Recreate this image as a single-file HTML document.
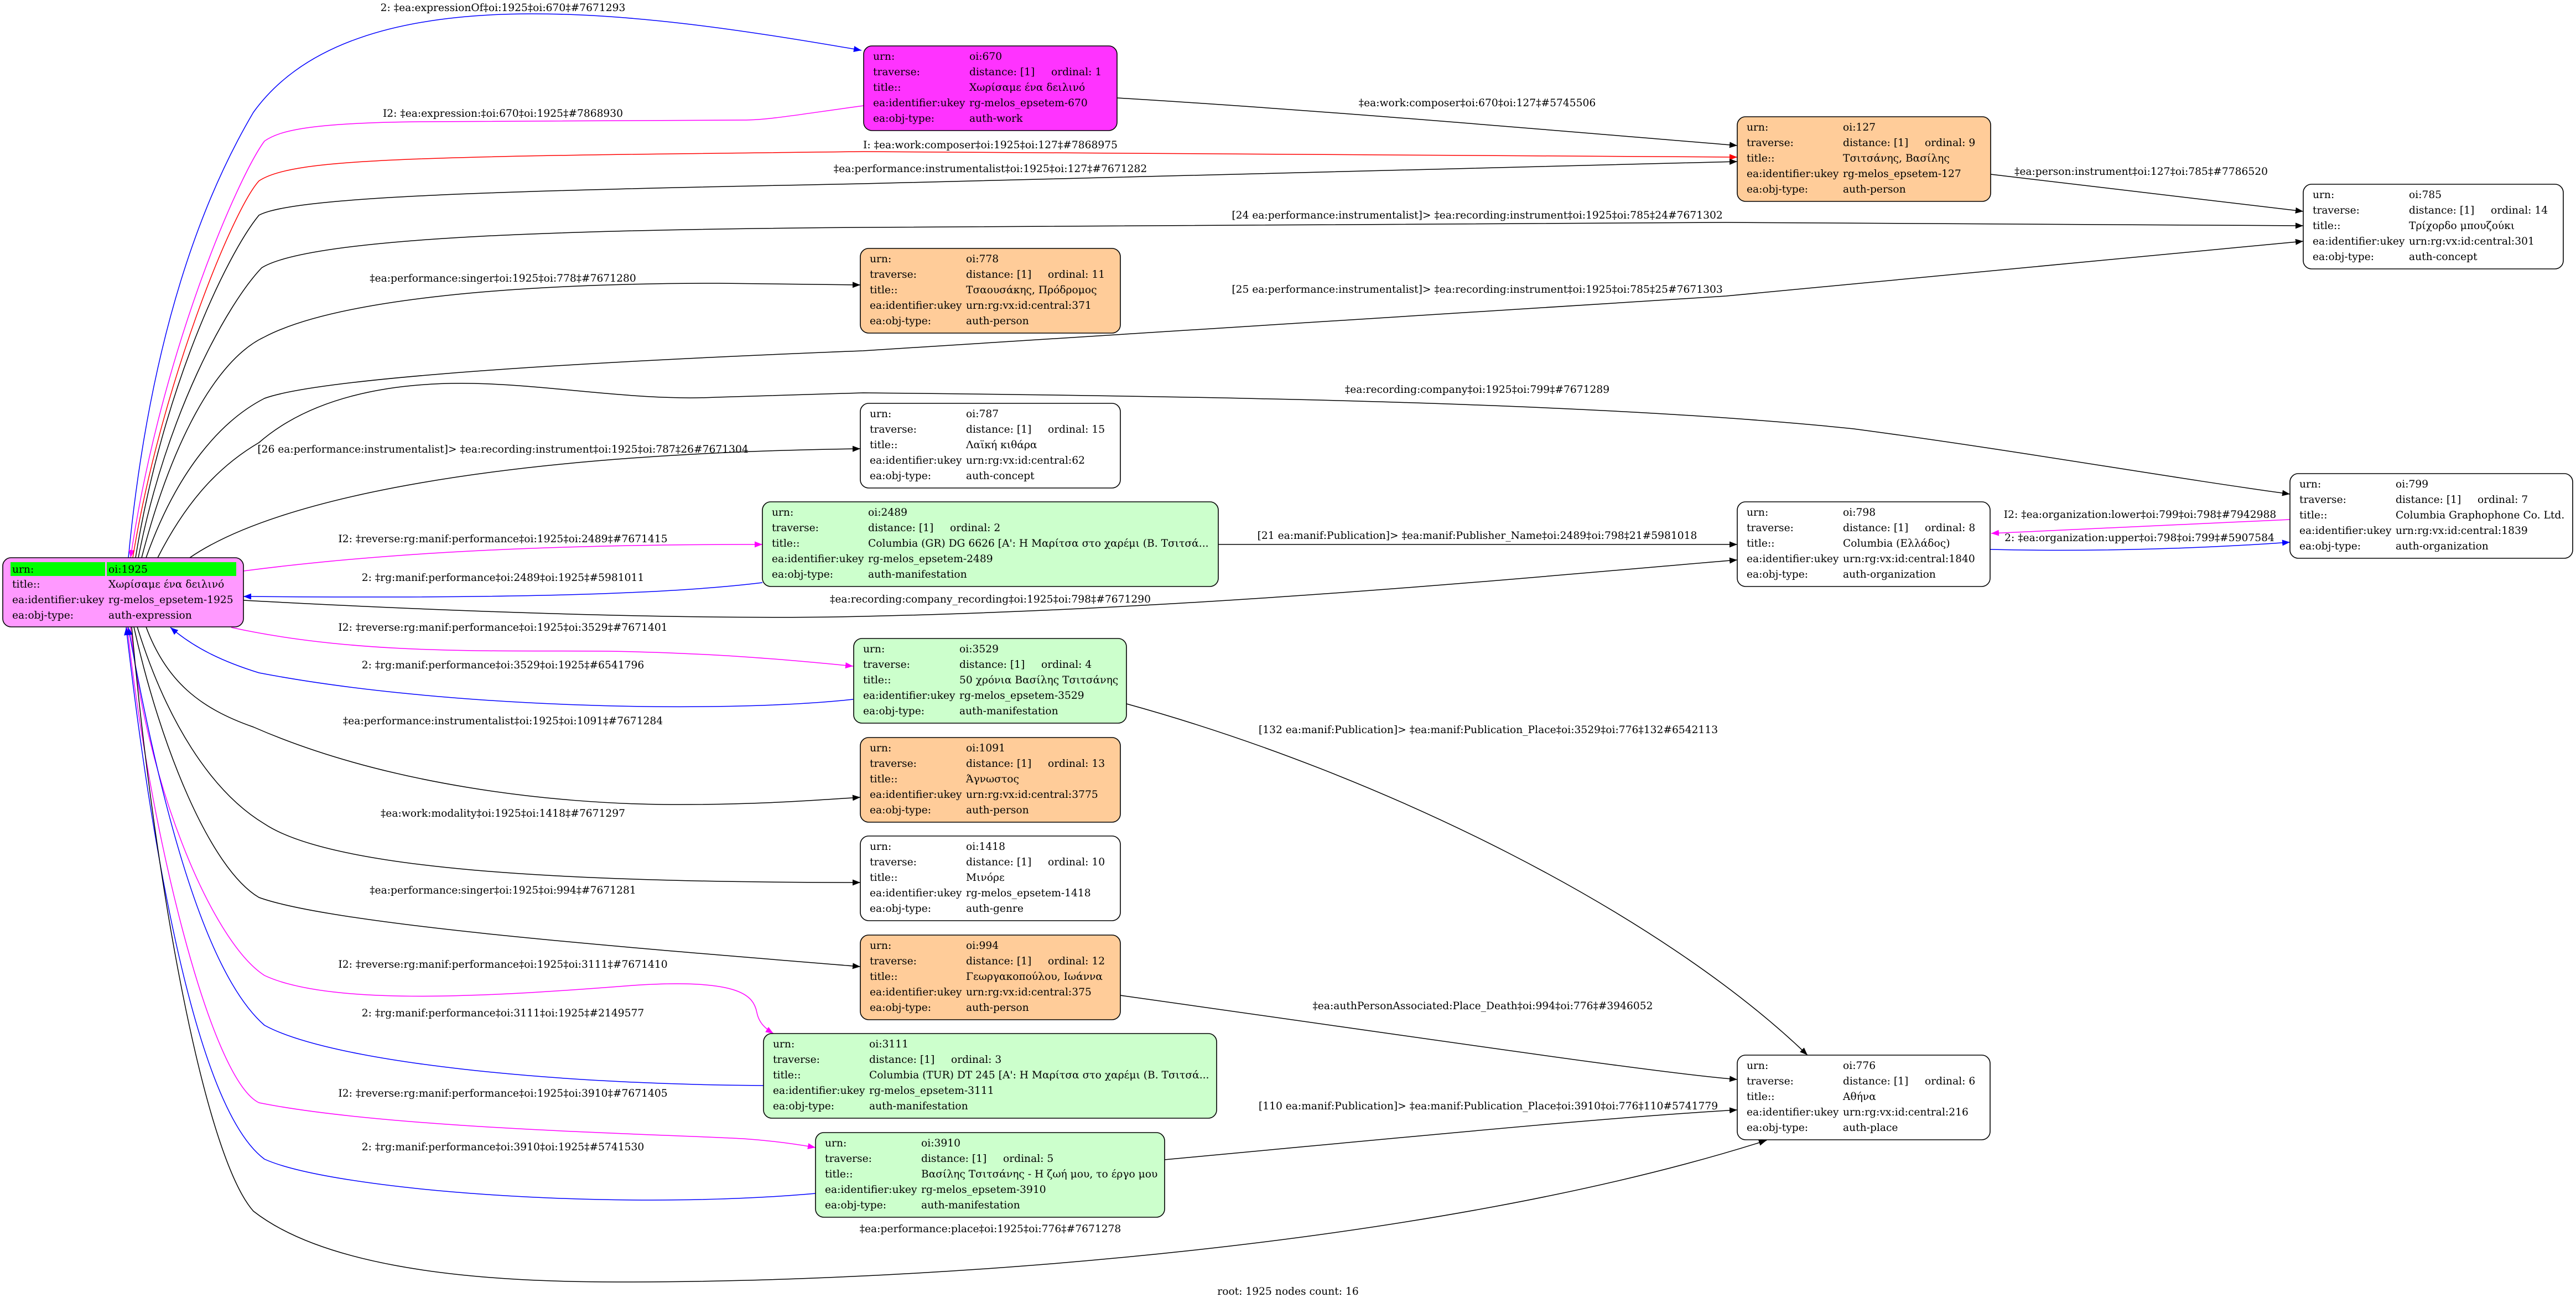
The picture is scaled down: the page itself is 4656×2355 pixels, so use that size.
<!DOCTYPE html>
<html>
<head>
<meta charset="utf-8">
<style>
html,body{margin:0;padding:0;background:#fff;}
svg{display:block;}
text{font-family:"DejaVu Serif","Liberation Serif",serif;font-size:18.67px;fill:#000;}
.e{fill:none;stroke-width:1.5;}
.k{stroke:#000;}
.b{stroke:#0000ff;}
.m{stroke:#ff00ff;}
.r{stroke:#ff0000;}
.n{stroke:#000;stroke-width:1.6;}
</style>
</head>
<body>
<svg width="4656" height="2355" viewBox="0 0 4656 2355" xmlns="http://www.w3.org/2000/svg">
<defs>
<marker id="ak" markerUnits="userSpaceOnUse" markerWidth="16" markerHeight="13" refX="14" refY="5.5" orient="auto"><path d="M0,0 L14,5.5 L0,11 z" fill="#000"/></marker>
<marker id="ab" markerUnits="userSpaceOnUse" markerWidth="16" markerHeight="13" refX="14" refY="5.5" orient="auto"><path d="M0,0 L14,5.5 L0,11 z" fill="#0000ff"/></marker>
<marker id="am" markerUnits="userSpaceOnUse" markerWidth="16" markerHeight="13" refX="14" refY="5.5" orient="auto"><path d="M0,0 L14,5.5 L0,11 z" fill="#ff00ff"/></marker>
<marker id="ar" markerUnits="userSpaceOnUse" markerWidth="16" markerHeight="13" refX="14" refY="5.5" orient="auto"><path d="M0,0 L14,5.5 L0,11 z" fill="#ff0000"/></marker>
</defs>
<rect x="0" y="0" width="4656" height="2355" fill="#fff"/>

<!-- EDGES -->
<path class="e b" marker-end="url(#ab)" d="M232,1008 C262,700 330,420 458,203 C640,-50 1150,20 1557,91"/>
<path class="e m" marker-end="url(#am)" d="M1561,191 C1450,206 1390,217 1343,217 L760,220 C560,222 505,236 478,255 C430,320 290,640 236,1008"/>
<path class="e r" marker-end="url(#ar)" d="M240,1008 C290,700 420,380 468,327 C530,285 750,283 1560,274 L3140,284"/>
<path class="e k" marker-end="url(#ak)" d="M245,1008 C295,700 410,460 468,389 C530,355 900,345 1560,332 L3140,292"/>
<path class="e k" marker-end="url(#ak)" d="M250,1008 C300,750 410,550 473,484 C560,430 1000,415 1560,411 L3120,402 L4163,408"/>
<path class="e k" marker-end="url(#ak)" d="M256,1008 C310,800 390,650 478,609 C600,545 900,512 1300,512 L1555,515"/>
<path class="e k" marker-end="url(#ak)" d="M264,1008 C320,850 400,760 478,720 C560,690 900,660 1560,634 C2200,590 2700,560 3120,535 L4163,436"/>
<path class="e k" marker-end="url(#ak)" d="M285,1008 C340,900 400,840 468,800 C560,720 700,690 856,693 C1000,696 1150,725 1294,718 C1400,714 1480,712 1560,710 C2200,716 2900,728 3350,775 C3650,815 3900,860 4139,893"/>
<path class="e k" marker-end="url(#ak)" d="M343,1008 C500,900 900,820 1555,811"/>
<path class="e m" marker-end="url(#am)" d="M440,1032 C700,998 1000,984 1378,984"/>
<path class="e b" marker-end="url(#ab)" d="M1378,1053 C1200,1075 900,1082 440,1078"/>
<path class="e k" marker-end="url(#ak)" d="M440,1085 C900,1110 1300,1120 1560,1114 C2200,1100 2800,1040 3140,1012"/>
<path class="e k" marker-end="url(#ak)" d="M2202,984 L3140,984"/>
<path class="e m" marker-end="url(#am)" d="M4139,939 C3900,950 3700,958 3599,964"/>
<path class="e b" marker-end="url(#ab)" d="M3597,993 C3800,998 4000,990 4139,980"/>
<path class="e k" marker-end="url(#ak)" d="M2019,177 C2400,200 2800,235 3140,263"/>
<path class="e k" marker-end="url(#ak)" d="M3598,315 L4163,382"/>
<path class="e m" marker-end="url(#am)" d="M418,1134 C650,1185 900,1175 1100,1177 C1300,1180 1450,1195 1542,1204"/>
<path class="e b" marker-end="url(#ab)" d="M1542,1264 C1300,1290 800,1280 468,1216 C400,1195 350,1170 308,1134"/>
<path class="e k" marker-end="url(#ak)" d="M264,1133 C300,1230 360,1280 458,1314 C700,1420 1000,1452 1200,1454 C1350,1455 1450,1448 1555,1441"/>
<path class="e k" marker-end="url(#ak)" d="M248,1133 C300,1300 380,1430 478,1489 C600,1570 1000,1595 1555,1595"/>
<path class="e k" marker-end="url(#ak)" d="M242,1133 C290,1350 380,1570 468,1622 C600,1670 1100,1710 1555,1747"/>
<path class="e m" marker-end="url(#am)" d="M236,1133 C260,1400 380,1700 478,1763 C600,1820 900,1800 1144,1781 C1340,1768 1362,1800 1368,1830 C1372,1850 1385,1860 1398,1868"/>
<path class="e b" marker-end="url(#ab)" d="M1380,1962 C1000,1960 600,1920 478,1853 C360,1750 280,1400 232,1134"/>
<path class="e m" marker-end="url(#am)" d="M230,1133 C270,1500 380,1950 468,1993 C700,2040 1200,2050 1343,2058 C1400,2062 1440,2068 1474,2074"/>
<path class="e b" marker-end="url(#ab)" d="M1474,2157 C1100,2190 600,2150 478,2095 C350,2000 270,1500 228,1134"/>
<path class="e k" marker-end="url(#ak)" d="M238,1133 C280,1600 370,2090 458,2189 C600,2300 900,2317 1114,2317 C1700,2318 2600,2250 3193,2061"/>
<path class="e k" marker-end="url(#ak)" d="M2036,1272 C2500,1400 3000,1650 3267,1907"/>
<path class="e k" marker-end="url(#ak)" d="M2025,1799 C2600,1880 3000,1940 3140,1951"/>
<path class="e k" marker-end="url(#ak)" d="M2105,2096 C2600,2050 2900,2020 3140,2006"/>

<!-- ROOT NODE -->
<g transform="translate(5,1008)">
<rect class="n" x="0" y="0" width="435" height="125" rx="15" fill="#ff99ff"/>
<rect x="14" y="8" width="171" height="25" fill="#00ff00"/>
<rect x="188" y="8" width="234" height="25" fill="#00ff00"/>
<text x="17" y="27">urn:</text><text x="191" y="27">oi:1925</text>
<text x="17" y="54">title::</text><text x="191" y="54">Χωρίσαμε ένα δειλινό</text>
<text x="17" y="82">ea:identifier:ukey</text><text x="191" y="82">rg-melos_epsetem-1925</text>
<text x="17" y="110">ea:obj-type:</text><text x="191" y="110">auth-expression</text>
</g>

<!-- NODE 670 -->
<g transform="translate(1561,83)">
<rect class="n" x="0" y="0" width="458" height="153" rx="15" fill="#ff33ff"/>
<text x="17" y="25">urn:</text><text x="191" y="25">oi:670</text>
<text x="17" y="53">traverse:</text><text x="191" y="53">distance: [1]</text><text x="339" y="53">ordinal: 1</text>
<text x="17" y="81">title::</text><text x="191" y="81">Χωρίσαμε ένα δειλινό</text>
<text x="17" y="109">ea:identifier:ukey</text><text x="191" y="109">rg-melos_epsetem-670</text>
<text x="17" y="137">ea:obj-type:</text><text x="191" y="137">auth-work</text>
</g>

<!-- NODE 127 -->
<g transform="translate(3140,211)">
<rect class="n" x="0" y="0" width="458" height="153" rx="15" fill="#ffcc99"/>
<text x="17" y="25">urn:</text><text x="191" y="25">oi:127</text>
<text x="17" y="53">traverse:</text><text x="191" y="53">distance: [1]</text><text x="339" y="53">ordinal: 9</text>
<text x="17" y="81">title::</text><text x="191" y="81">Τσιτσάνης, Βασίλης</text>
<text x="17" y="109">ea:identifier:ukey</text><text x="191" y="109">rg-melos_epsetem-127</text>
<text x="17" y="137">ea:obj-type:</text><text x="191" y="137">auth-person</text>
</g>

<!-- NODE 785 -->
<g transform="translate(4163,333)">
<rect class="n" x="0" y="0" width="470" height="153" rx="15" fill="#ffffff"/>
<text x="17" y="25">urn:</text><text x="191" y="25">oi:785</text>
<text x="17" y="53">traverse:</text><text x="191" y="53">distance: [1]</text><text x="339" y="53">ordinal: 14</text>
<text x="17" y="81">title::</text><text x="191" y="81">Τρίχορδο μπουζούκι</text>
<text x="17" y="109">ea:identifier:ukey</text><text x="191" y="109">urn:rg:vx:id:central:301</text>
<text x="17" y="137">ea:obj-type:</text><text x="191" y="137">auth-concept</text>
</g>

<!-- NODE 778 -->
<g transform="translate(1555,449)">
<rect class="n" x="0" y="0" width="470" height="153" rx="15" fill="#ffcc99"/>
<text x="17" y="25">urn:</text><text x="191" y="25">oi:778</text>
<text x="17" y="53">traverse:</text><text x="191" y="53">distance: [1]</text><text x="339" y="53">ordinal: 11</text>
<text x="17" y="81">title::</text><text x="191" y="81">Τσαουσάκης, Πρόδρομος</text>
<text x="17" y="109">ea:identifier:ukey</text><text x="191" y="109">urn:rg:vx:id:central:371</text>
<text x="17" y="137">ea:obj-type:</text><text x="191" y="137">auth-person</text>
</g>

<!-- NODE 787 -->
<g transform="translate(1555,729)">
<rect class="n" x="0" y="0" width="470" height="153" rx="15" fill="#ffffff"/>
<text x="17" y="25">urn:</text><text x="191" y="25">oi:787</text>
<text x="17" y="53">traverse:</text><text x="191" y="53">distance: [1]</text><text x="339" y="53">ordinal: 15</text>
<text x="17" y="81">title::</text><text x="191" y="81">Λαϊκή κιθάρα</text>
<text x="17" y="109">ea:identifier:ukey</text><text x="191" y="109">urn:rg:vx:id:central:62</text>
<text x="17" y="137">ea:obj-type:</text><text x="191" y="137">auth-concept</text>
</g>

<!-- NODE 2489 -->
<g transform="translate(1378,907)">
<rect class="n" x="0" y="0" width="824" height="153" rx="15" fill="#ccffcc"/>
<text x="17" y="25">urn:</text><text x="191" y="25">oi:2489</text>
<text x="17" y="53">traverse:</text><text x="191" y="53">distance: [1]</text><text x="339" y="53">ordinal: 2</text>
<text x="17" y="81">title::</text><text x="191" y="81">Columbia (GR) DG 6626 [A': Η Μαρίτσα στο χαρέμι (Β. Τσιτσά...</text>
<text x="17" y="109">ea:identifier:ukey</text><text x="191" y="109">rg-melos_epsetem-2489</text>
<text x="17" y="137">ea:obj-type:</text><text x="191" y="137">auth-manifestation</text>
</g>

<!-- NODE 798 -->
<g transform="translate(3140,907)">
<rect class="n" x="0" y="0" width="457" height="153" rx="15" fill="#ffffff"/>
<text x="17" y="25">urn:</text><text x="191" y="25">oi:798</text>
<text x="17" y="53">traverse:</text><text x="191" y="53">distance: [1]</text><text x="339" y="53">ordinal: 8</text>
<text x="17" y="81">title::</text><text x="191" y="81">Columbia (Ελλάδος)</text>
<text x="17" y="109">ea:identifier:ukey</text><text x="191" y="109">urn:rg:vx:id:central:1840</text>
<text x="17" y="137">ea:obj-type:</text><text x="191" y="137">auth-organization</text>
</g>

<!-- NODE 799 -->
<g transform="translate(4139,856)">
<rect class="n" x="0" y="0" width="511" height="153" rx="15" fill="#ffffff"/>
<text x="17" y="25">urn:</text><text x="191" y="25">oi:799</text>
<text x="17" y="53">traverse:</text><text x="191" y="53">distance: [1]</text><text x="339" y="53">ordinal: 7</text>
<text x="17" y="81">title::</text><text x="191" y="81">Columbia Graphophone Co. Ltd.</text>
<text x="17" y="109">ea:identifier:ukey</text><text x="191" y="109">urn:rg:vx:id:central:1839</text>
<text x="17" y="137">ea:obj-type:</text><text x="191" y="137">auth-organization</text>
</g>

<!-- NODE 3529 -->
<g transform="translate(1543,1154)">
<rect class="n" x="0" y="0" width="493" height="153" rx="15" fill="#ccffcc"/>
<text x="17" y="25">urn:</text><text x="191" y="25">oi:3529</text>
<text x="17" y="53">traverse:</text><text x="191" y="53">distance: [1]</text><text x="339" y="53">ordinal: 4</text>
<text x="17" y="81">title::</text><text x="191" y="81">50 χρόνια Βασίλης Τσιτσάνης</text>
<text x="17" y="109">ea:identifier:ukey</text><text x="191" y="109">rg-melos_epsetem-3529</text>
<text x="17" y="137">ea:obj-type:</text><text x="191" y="137">auth-manifestation</text>
</g>

<!-- NODE 1091 -->
<g transform="translate(1555,1333)">
<rect class="n" x="0" y="0" width="470" height="153" rx="15" fill="#ffcc99"/>
<text x="17" y="25">urn:</text><text x="191" y="25">oi:1091</text>
<text x="17" y="53">traverse:</text><text x="191" y="53">distance: [1]</text><text x="339" y="53">ordinal: 13</text>
<text x="17" y="81">title::</text><text x="191" y="81">Άγνωστος</text>
<text x="17" y="109">ea:identifier:ukey</text><text x="191" y="109">urn:rg:vx:id:central:3775</text>
<text x="17" y="137">ea:obj-type:</text><text x="191" y="137">auth-person</text>
</g>

<!-- NODE 1418 -->
<g transform="translate(1555,1511)">
<rect class="n" x="0" y="0" width="470" height="153" rx="15" fill="#ffffff"/>
<text x="17" y="25">urn:</text><text x="191" y="25">oi:1418</text>
<text x="17" y="53">traverse:</text><text x="191" y="53">distance: [1]</text><text x="339" y="53">ordinal: 10</text>
<text x="17" y="81">title::</text><text x="191" y="81">Μινόρε</text>
<text x="17" y="109">ea:identifier:ukey</text><text x="191" y="109">rg-melos_epsetem-1418</text>
<text x="17" y="137">ea:obj-type:</text><text x="191" y="137">auth-genre</text>
</g>

<!-- NODE 994 -->
<g transform="translate(1555,1690)">
<rect class="n" x="0" y="0" width="470" height="153" rx="15" fill="#ffcc99"/>
<text x="17" y="25">urn:</text><text x="191" y="25">oi:994</text>
<text x="17" y="53">traverse:</text><text x="191" y="53">distance: [1]</text><text x="339" y="53">ordinal: 12</text>
<text x="17" y="81">title::</text><text x="191" y="81">Γεωργακοπούλου, Ιωάννα</text>
<text x="17" y="109">ea:identifier:ukey</text><text x="191" y="109">urn:rg:vx:id:central:375</text>
<text x="17" y="137">ea:obj-type:</text><text x="191" y="137">auth-person</text>
</g>

<!-- NODE 3111 -->
<g transform="translate(1380,1868)">
<rect class="n" x="0" y="0" width="819" height="153" rx="15" fill="#ccffcc"/>
<text x="17" y="25">urn:</text><text x="191" y="25">oi:3111</text>
<text x="17" y="53">traverse:</text><text x="191" y="53">distance: [1]</text><text x="339" y="53">ordinal: 3</text>
<text x="17" y="81">title::</text><text x="191" y="81">Columbia (TUR) DT 245 [A': Η Μαρίτσα στο χαρέμι (Β. Τσιτσά...</text>
<text x="17" y="109">ea:identifier:ukey</text><text x="191" y="109">rg-melos_epsetem-3111</text>
<text x="17" y="137">ea:obj-type:</text><text x="191" y="137">auth-manifestation</text>
</g>

<!-- NODE 3910 -->
<g transform="translate(1474,2047)">
<rect class="n" x="0" y="0" width="631" height="153" rx="15" fill="#ccffcc"/>
<text x="17" y="25">urn:</text><text x="191" y="25">oi:3910</text>
<text x="17" y="53">traverse:</text><text x="191" y="53">distance: [1]</text><text x="339" y="53">ordinal: 5</text>
<text x="17" y="81">title::</text><text x="191" y="81">Βασίλης Τσιτσάνης - Η ζωή μου, το έργο μου</text>
<text x="17" y="109">ea:identifier:ukey</text><text x="191" y="109">rg-melos_epsetem-3910</text>
<text x="17" y="137">ea:obj-type:</text><text x="191" y="137">auth-manifestation</text>
</g>

<!-- NODE 776 -->
<g transform="translate(3140,1907)">
<rect class="n" x="0" y="0" width="457" height="153" rx="15" fill="#ffffff"/>
<text x="17" y="25">urn:</text><text x="191" y="25">oi:776</text>
<text x="17" y="53">traverse:</text><text x="191" y="53">distance: [1]</text><text x="339" y="53">ordinal: 6</text>
<text x="17" y="81">title::</text><text x="191" y="81">Αθήνα</text>
<text x="17" y="109">ea:identifier:ukey</text><text x="191" y="109">urn:rg:vx:id:central:216</text>
<text x="17" y="137">ea:obj-type:</text><text x="191" y="137">auth-place</text>
</g>

<!-- EDGE LABELS: left rank -->
<g text-anchor="middle">
<text x="909" y="20">2: ‡ea:expressionOf‡oi:1925‡oi:670‡#7671293</text>
<text x="909" y="211">I2: ‡ea:expression:‡oi:670‡oi:1925‡#7868930</text>
<text x="909" y="509">‡ea:performance:singer‡oi:1925‡oi:778‡#7671280</text>
<text x="909" y="818">[26 ea:performance:instrumentalist]&gt; ‡ea:recording:instrument‡oi:1925‡oi:787‡26#7671304</text>
<text x="909" y="980">I2: ‡reverse:rg:manif:performance‡oi:1925‡oi:2489‡#7671415</text>
<text x="909" y="1050">2: ‡rg:manif:performance‡oi:2489‡oi:1925‡#5981011</text>
<text x="909" y="1140">I2: ‡reverse:rg:manif:performance‡oi:1925‡oi:3529‡#7671401</text>
<text x="909" y="1208">2: ‡rg:manif:performance‡oi:3529‡oi:1925‡#6541796</text>
<text x="909" y="1309">‡ea:performance:instrumentalist‡oi:1925‡oi:1091‡#7671284</text>
<text x="909" y="1476">‡ea:work:modality‡oi:1925‡oi:1418‡#7671297</text>
<text x="909" y="1615">‡ea:performance:singer‡oi:1925‡oi:994‡#7671281</text>
<text x="909" y="1749">I2: ‡reverse:rg:manif:performance‡oi:1925‡oi:3111‡#7671410</text>
<text x="909" y="1837">2: ‡rg:manif:performance‡oi:3111‡oi:1925‡#2149577</text>
<text x="909" y="1982">I2: ‡reverse:rg:manif:performance‡oi:1925‡oi:3910‡#7671405</text>
<text x="909" y="2079">2: ‡rg:manif:performance‡oi:3910‡oi:1925‡#5741530</text>

<!-- middle rank -->
<text x="1790" y="268">I: ‡ea:work:composer‡oi:1925‡oi:127‡#7868975</text>
<text x="1790" y="311">‡ea:performance:instrumentalist‡oi:1925‡oi:127‡#7671282</text>
<text x="1790" y="1089">‡ea:recording:company_recording‡oi:1925‡oi:798‡#7671290</text>
<text x="1790" y="2227">‡ea:performance:place‡oi:1925‡oi:776‡#7671278</text>

<!-- right rank -->
<text x="2670" y="192">‡ea:work:composer‡oi:670‡oi:127‡#5745506</text>
<text x="2670" y="395">[24 ea:performance:instrumentalist]&gt; ‡ea:recording:instrument‡oi:1925‡oi:785‡24#7671302</text>
<text x="2670" y="529">[25 ea:performance:instrumentalist]&gt; ‡ea:recording:instrument‡oi:1925‡oi:785‡25#7671303</text>
<text x="2670" y="710">‡ea:recording:company‡oi:1925‡oi:799‡#7671289</text>
<text x="2670" y="974">[21 ea:manif:Publication]&gt; ‡ea:manif:Publisher_Name‡oi:2489‡oi:798‡21#5981018</text>
<text x="2690" y="1325">[132 ea:manif:Publication]&gt; ‡ea:manif:Publication_Place‡oi:3529‡oi:776‡132#6542113</text>
<text x="2680" y="1824">‡ea:authPersonAssociated:Place_Death‡oi:994‡oi:776‡#3946052</text>
<text x="2690" y="2005">[110 ea:manif:Publication]&gt; ‡ea:manif:Publication_Place‡oi:3910‡oi:776‡110#5741779</text>

<!-- far right rank -->
<text x="3870" y="316">‡ea:person:instrument‡oi:127‡oi:785‡#7786520</text>
<text x="3868" y="936">I2: ‡ea:organization:lower‡oi:799‡oi:798‡#7942988</text>
<text x="3867" y="978">2: ‡ea:organization:upper‡oi:798‡oi:799‡#5907584</text>

<!-- graph label -->
<text x="2328" y="2340">root: 1925 nodes count: 16</text>
</g>
</svg>
</body>
</html>
